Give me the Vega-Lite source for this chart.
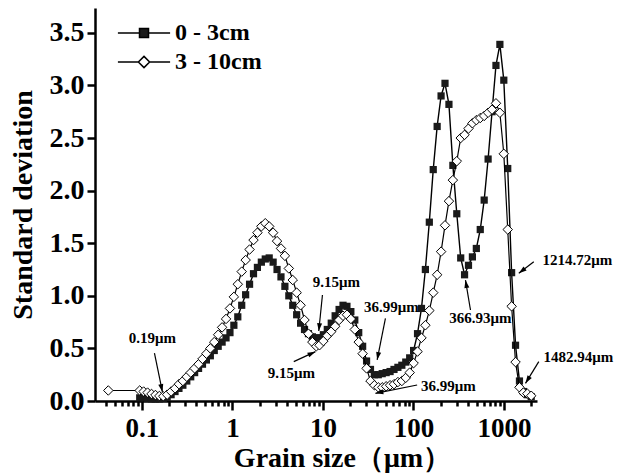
{
  "$schema": "https://vega.github.io/schema/vega-lite/v6.json",
  "width": 442,
  "height": 393,
  "autosize": {"type": "none"},
  "padding": {"left": 95, "top": 8, "right": 80, "bottom": 74},
  "background": "white",
  "config": {"view": {"stroke": null}, "font": "Liberation Serif"},
  "datasets": {
    "sd": [
      {"size": 0.0945, "sd": 0.03, "depth": "0 - 3cm"},
      {"size": 0.1044, "sd": 0.03, "depth": "0 - 3cm"},
      {"size": 0.1154, "sd": 0.025, "depth": "0 - 3cm"},
      {"size": 0.1275, "sd": 0.02, "depth": "0 - 3cm"},
      {"size": 0.1409, "sd": 0.02, "depth": "0 - 3cm"},
      {"size": 0.1557, "sd": 0.02, "depth": "0 - 3cm"},
      {"size": 0.172, "sd": 0.025, "depth": "0 - 3cm"},
      {"size": 0.19, "sd": 0.035, "depth": "0 - 3cm"},
      {"size": 0.21, "sd": 0.06, "depth": "0 - 3cm"},
      {"size": 0.232, "sd": 0.09, "depth": "0 - 3cm"},
      {"size": 0.2564, "sd": 0.12, "depth": "0 - 3cm"},
      {"size": 0.2833, "sd": 0.15, "depth": "0 - 3cm"},
      {"size": 0.313, "sd": 0.19, "depth": "0 - 3cm"},
      {"size": 0.3459, "sd": 0.23, "depth": "0 - 3cm"},
      {"size": 0.3822, "sd": 0.27, "depth": "0 - 3cm"},
      {"size": 0.4223, "sd": 0.31, "depth": "0 - 3cm"},
      {"size": 0.4667, "sd": 0.35, "depth": "0 - 3cm"},
      {"size": 0.5157, "sd": 0.39, "depth": "0 - 3cm"},
      {"size": 0.5698, "sd": 0.43, "depth": "0 - 3cm"},
      {"size": 0.6296, "sd": 0.48, "depth": "0 - 3cm"},
      {"size": 0.6957, "sd": 0.52, "depth": "0 - 3cm"},
      {"size": 0.7688, "sd": 0.56, "depth": "0 - 3cm"},
      {"size": 0.8495, "sd": 0.60, "depth": "0 - 3cm"},
      {"size": 0.9387, "sd": 0.65, "depth": "0 - 3cm"},
      {"size": 1.037, "sd": 0.72, "depth": "0 - 3cm"},
      {"size": 1.146, "sd": 0.80, "depth": "0 - 3cm"},
      {"size": 1.266, "sd": 0.91, "depth": "0 - 3cm"},
      {"size": 1.399, "sd": 1.01, "depth": "0 - 3cm"},
      {"size": 1.546, "sd": 1.11, "depth": "0 - 3cm"},
      {"size": 1.709, "sd": 1.21, "depth": "0 - 3cm"},
      {"size": 1.888, "sd": 1.27, "depth": "0 - 3cm"},
      {"size": 2.086, "sd": 1.32, "depth": "0 - 3cm"},
      {"size": 2.305, "sd": 1.35, "depth": "0 - 3cm"},
      {"size": 2.547, "sd": 1.36, "depth": "0 - 3cm"},
      {"size": 2.815, "sd": 1.32, "depth": "0 - 3cm"},
      {"size": 3.11, "sd": 1.25, "depth": "0 - 3cm"},
      {"size": 3.437, "sd": 1.18, "depth": "0 - 3cm"},
      {"size": 3.798, "sd": 1.09, "depth": "0 - 3cm"},
      {"size": 4.197, "sd": 1.00, "depth": "0 - 3cm"},
      {"size": 4.637, "sd": 0.91, "depth": "0 - 3cm"},
      {"size": 5.124, "sd": 0.82, "depth": "0 - 3cm"},
      {"size": 5.662, "sd": 0.74, "depth": "0 - 3cm"},
      {"size": 6.257, "sd": 0.68, "depth": "0 - 3cm"},
      {"size": 6.914, "sd": 0.64, "depth": "0 - 3cm"},
      {"size": 7.64, "sd": 0.61, "depth": "0 - 3cm"},
      {"size": 8.442, "sd": 0.60, "depth": "0 - 3cm"},
      {"size": 9.15, "sd": 0.60, "depth": "0 - 3cm"},
      {"size": 10.11, "sd": 0.63, "depth": "0 - 3cm"},
      {"size": 11.17, "sd": 0.68, "depth": "0 - 3cm"},
      {"size": 12.35, "sd": 0.74, "depth": "0 - 3cm"},
      {"size": 13.64, "sd": 0.81, "depth": "0 - 3cm"},
      {"size": 15.08, "sd": 0.87, "depth": "0 - 3cm"},
      {"size": 16.66, "sd": 0.91, "depth": "0 - 3cm"},
      {"size": 18.41, "sd": 0.90, "depth": "0 - 3cm"},
      {"size": 20.34, "sd": 0.85, "depth": "0 - 3cm"},
      {"size": 22.48, "sd": 0.77, "depth": "0 - 3cm"},
      {"size": 24.84, "sd": 0.65, "depth": "0 - 3cm"},
      {"size": 27.45, "sd": 0.52, "depth": "0 - 3cm"},
      {"size": 30.33, "sd": 0.38, "depth": "0 - 3cm"},
      {"size": 33.51, "sd": 0.30, "depth": "0 - 3cm"},
      {"size": 36.99, "sd": 0.25, "depth": "0 - 3cm"},
      {"size": 40.87, "sd": 0.25, "depth": "0 - 3cm"},
      {"size": 45.16, "sd": 0.26, "depth": "0 - 3cm"},
      {"size": 49.91, "sd": 0.27, "depth": "0 - 3cm"},
      {"size": 55.15, "sd": 0.28, "depth": "0 - 3cm"},
      {"size": 60.94, "sd": 0.30, "depth": "0 - 3cm"},
      {"size": 67.33, "sd": 0.32, "depth": "0 - 3cm"},
      {"size": 74.4, "sd": 0.34, "depth": "0 - 3cm"},
      {"size": 82.22, "sd": 0.37, "depth": "0 - 3cm"},
      {"size": 90.85, "sd": 0.41, "depth": "0 - 3cm"},
      {"size": 100.4, "sd": 0.48, "depth": "0 - 3cm"},
      {"size": 110.9, "sd": 0.64, "depth": "0 - 3cm"},
      {"size": 122.6, "sd": 0.88, "depth": "0 - 3cm"},
      {"size": 135.4, "sd": 1.25, "depth": "0 - 3cm"},
      {"size": 149.7, "sd": 1.70, "depth": "0 - 3cm"},
      {"size": 165.4, "sd": 2.20, "depth": "0 - 3cm"},
      {"size": 182.7, "sd": 2.61, "depth": "0 - 3cm"},
      {"size": 201.9, "sd": 2.90, "depth": "0 - 3cm"},
      {"size": 223.1, "sd": 3.02, "depth": "0 - 3cm"},
      {"size": 246.6, "sd": 2.82, "depth": "0 - 3cm"},
      {"size": 272.5, "sd": 2.24, "depth": "0 - 3cm"},
      {"size": 301.1, "sd": 1.78, "depth": "0 - 3cm"},
      {"size": 332.7, "sd": 1.36, "depth": "0 - 3cm"},
      {"size": 366.93, "sd": 1.20, "depth": "0 - 3cm"},
      {"size": 405.5, "sd": 1.29, "depth": "0 - 3cm"},
      {"size": 448, "sd": 1.37, "depth": "0 - 3cm"},
      {"size": 495.1, "sd": 1.45, "depth": "0 - 3cm"},
      {"size": 547.1, "sd": 1.63, "depth": "0 - 3cm"},
      {"size": 604.5, "sd": 1.91, "depth": "0 - 3cm"},
      {"size": 668, "sd": 2.30, "depth": "0 - 3cm"},
      {"size": 738.2, "sd": 2.75, "depth": "0 - 3cm"},
      {"size": 815.7, "sd": 3.19, "depth": "0 - 3cm"},
      {"size": 901.3, "sd": 3.39, "depth": "0 - 3cm"},
      {"size": 995.9, "sd": 3.05, "depth": "0 - 3cm"},
      {"size": 1100.5, "sd": 2.21, "depth": "0 - 3cm"},
      {"size": 1214.72, "sd": 1.22, "depth": "0 - 3cm"},
      {"size": 1342.3, "sd": 0.53, "depth": "0 - 3cm"},
      {"size": 1482.94, "sd": 0.19, "depth": "0 - 3cm"},
      {"size": 1638.6, "sd": 0.09, "depth": "0 - 3cm"},
      {"size": 1810.7, "sd": 0.06, "depth": "0 - 3cm"},
      {"size": 2000, "sd": 0.04, "depth": "0 - 3cm"},
      {"size": 0.0425, "sd": 0.10, "depth": "3 - 10cm"},
      {"size": 0.0945, "sd": 0.10, "depth": "3 - 10cm"},
      {"size": 0.1044, "sd": 0.09, "depth": "3 - 10cm"},
      {"size": 0.1154, "sd": 0.08, "depth": "3 - 10cm"},
      {"size": 0.1275, "sd": 0.067, "depth": "3 - 10cm"},
      {"size": 0.1409, "sd": 0.057, "depth": "3 - 10cm"},
      {"size": 0.1557, "sd": 0.048, "depth": "3 - 10cm"},
      {"size": 0.172, "sd": 0.045, "depth": "3 - 10cm"},
      {"size": 0.19, "sd": 0.06, "depth": "3 - 10cm"},
      {"size": 0.21, "sd": 0.09, "depth": "3 - 10cm"},
      {"size": 0.232, "sd": 0.12, "depth": "3 - 10cm"},
      {"size": 0.2564, "sd": 0.16, "depth": "3 - 10cm"},
      {"size": 0.2833, "sd": 0.19, "depth": "3 - 10cm"},
      {"size": 0.313, "sd": 0.23, "depth": "3 - 10cm"},
      {"size": 0.3459, "sd": 0.27, "depth": "3 - 10cm"},
      {"size": 0.3822, "sd": 0.31, "depth": "3 - 10cm"},
      {"size": 0.4223, "sd": 0.35, "depth": "3 - 10cm"},
      {"size": 0.4667, "sd": 0.40, "depth": "3 - 10cm"},
      {"size": 0.5157, "sd": 0.45, "depth": "3 - 10cm"},
      {"size": 0.5698, "sd": 0.50, "depth": "3 - 10cm"},
      {"size": 0.6296, "sd": 0.56, "depth": "3 - 10cm"},
      {"size": 0.6957, "sd": 0.63, "depth": "3 - 10cm"},
      {"size": 0.7688, "sd": 0.70, "depth": "3 - 10cm"},
      {"size": 0.8495, "sd": 0.78, "depth": "3 - 10cm"},
      {"size": 0.9387, "sd": 0.88, "depth": "3 - 10cm"},
      {"size": 1.037, "sd": 0.99, "depth": "3 - 10cm"},
      {"size": 1.146, "sd": 1.11, "depth": "3 - 10cm"},
      {"size": 1.266, "sd": 1.23, "depth": "3 - 10cm"},
      {"size": 1.399, "sd": 1.34, "depth": "3 - 10cm"},
      {"size": 1.546, "sd": 1.44, "depth": "3 - 10cm"},
      {"size": 1.709, "sd": 1.53, "depth": "3 - 10cm"},
      {"size": 1.888, "sd": 1.60, "depth": "3 - 10cm"},
      {"size": 2.086, "sd": 1.66, "depth": "3 - 10cm"},
      {"size": 2.305, "sd": 1.69, "depth": "3 - 10cm"},
      {"size": 2.547, "sd": 1.66, "depth": "3 - 10cm"},
      {"size": 2.815, "sd": 1.60, "depth": "3 - 10cm"},
      {"size": 3.11, "sd": 1.52, "depth": "3 - 10cm"},
      {"size": 3.437, "sd": 1.45, "depth": "3 - 10cm"},
      {"size": 3.798, "sd": 1.38, "depth": "3 - 10cm"},
      {"size": 4.197, "sd": 1.26, "depth": "3 - 10cm"},
      {"size": 4.637, "sd": 1.15, "depth": "3 - 10cm"},
      {"size": 5.124, "sd": 1.03, "depth": "3 - 10cm"},
      {"size": 5.662, "sd": 0.91, "depth": "3 - 10cm"},
      {"size": 6.257, "sd": 0.77, "depth": "3 - 10cm"},
      {"size": 6.914, "sd": 0.64, "depth": "3 - 10cm"},
      {"size": 7.64, "sd": 0.56, "depth": "3 - 10cm"},
      {"size": 8.442, "sd": 0.52, "depth": "3 - 10cm"},
      {"size": 9.15, "sd": 0.53, "depth": "3 - 10cm"},
      {"size": 10.11, "sd": 0.57, "depth": "3 - 10cm"},
      {"size": 11.17, "sd": 0.62, "depth": "3 - 10cm"},
      {"size": 12.35, "sd": 0.66, "depth": "3 - 10cm"},
      {"size": 13.64, "sd": 0.71, "depth": "3 - 10cm"},
      {"size": 15.08, "sd": 0.77, "depth": "3 - 10cm"},
      {"size": 16.66, "sd": 0.81, "depth": "3 - 10cm"},
      {"size": 18.41, "sd": 0.82, "depth": "3 - 10cm"},
      {"size": 20.34, "sd": 0.78, "depth": "3 - 10cm"},
      {"size": 22.48, "sd": 0.68, "depth": "3 - 10cm"},
      {"size": 24.84, "sd": 0.56, "depth": "3 - 10cm"},
      {"size": 27.45, "sd": 0.45, "depth": "3 - 10cm"},
      {"size": 30.33, "sd": 0.31, "depth": "3 - 10cm"},
      {"size": 33.51, "sd": 0.19, "depth": "3 - 10cm"},
      {"size": 36.99, "sd": 0.15, "depth": "3 - 10cm"},
      {"size": 40.87, "sd": 0.13, "depth": "3 - 10cm"},
      {"size": 45.16, "sd": 0.13, "depth": "3 - 10cm"},
      {"size": 49.91, "sd": 0.14, "depth": "3 - 10cm"},
      {"size": 55.15, "sd": 0.15, "depth": "3 - 10cm"},
      {"size": 60.94, "sd": 0.16, "depth": "3 - 10cm"},
      {"size": 67.33, "sd": 0.18, "depth": "3 - 10cm"},
      {"size": 74.4, "sd": 0.19, "depth": "3 - 10cm"},
      {"size": 82.22, "sd": 0.22, "depth": "3 - 10cm"},
      {"size": 90.85, "sd": 0.27, "depth": "3 - 10cm"},
      {"size": 100.4, "sd": 0.36, "depth": "3 - 10cm"},
      {"size": 110.9, "sd": 0.47, "depth": "3 - 10cm"},
      {"size": 122.6, "sd": 0.60, "depth": "3 - 10cm"},
      {"size": 135.4, "sd": 0.72, "depth": "3 - 10cm"},
      {"size": 149.7, "sd": 0.86, "depth": "3 - 10cm"},
      {"size": 165.4, "sd": 1.03, "depth": "3 - 10cm"},
      {"size": 182.7, "sd": 1.20, "depth": "3 - 10cm"},
      {"size": 201.9, "sd": 1.42, "depth": "3 - 10cm"},
      {"size": 223.1, "sd": 1.67, "depth": "3 - 10cm"},
      {"size": 246.6, "sd": 1.90, "depth": "3 - 10cm"},
      {"size": 272.5, "sd": 2.10, "depth": "3 - 10cm"},
      {"size": 301.1, "sd": 2.28, "depth": "3 - 10cm"},
      {"size": 332.7, "sd": 2.50, "depth": "3 - 10cm"},
      {"size": 366.93, "sd": 2.53, "depth": "3 - 10cm"},
      {"size": 405.5, "sd": 2.59, "depth": "3 - 10cm"},
      {"size": 448, "sd": 2.64, "depth": "3 - 10cm"},
      {"size": 495.1, "sd": 2.67, "depth": "3 - 10cm"},
      {"size": 547.1, "sd": 2.69, "depth": "3 - 10cm"},
      {"size": 604.5, "sd": 2.71, "depth": "3 - 10cm"},
      {"size": 668, "sd": 2.74, "depth": "3 - 10cm"},
      {"size": 738.2, "sd": 2.77, "depth": "3 - 10cm"},
      {"size": 815.7, "sd": 2.83, "depth": "3 - 10cm"},
      {"size": 901.3, "sd": 2.74, "depth": "3 - 10cm"},
      {"size": 995.9, "sd": 2.35, "depth": "3 - 10cm"},
      {"size": 1100.5, "sd": 1.63, "depth": "3 - 10cm"},
      {"size": 1214.72, "sd": 0.90, "depth": "3 - 10cm"},
      {"size": 1342.3, "sd": 0.37, "depth": "3 - 10cm"},
      {"size": 1482.94, "sd": 0.13, "depth": "3 - 10cm"},
      {"size": 1638.6, "sd": 0.08, "depth": "3 - 10cm"},
      {"size": 1810.7, "sd": 0.07, "depth": "3 - 10cm"},
      {"size": 2000, "sd": 0.05, "depth": "3 - 10cm"}
    ],
    "notes": [
      {"label": "0.19μm", "tx": 0.1306, "ty": 0.599, "x1": 0.1375, "y1": 0.456, "x2": 0.1684, "y2": 0.086, "ang": 168},
      {"label": "9.15μm", "tx": 14.1, "ty": 1.131, "x1": 9.87, "y1": 1.008, "x2": 8.99, "y2": 0.665, "ang": 186},
      {"label": "9.15μm", "tx": 4.49, "ty": 0.266, "x1": 4.76, "y1": 0.374, "x2": 8.26, "y2": 0.469, "ang": 65},
      {"label": "36.99μm", "tx": 57.1, "ty": 0.894, "x1": 49.0, "y1": 0.786, "x2": 39.7, "y2": 0.39, "ang": 191},
      {"label": "36.99μm", "tx": 243.7, "ty": 0.143, "x1": 109.8, "y1": 0.152, "x2": 38.0, "y2": 0.073, "ang": 259},
      {"label": "366.93μm", "tx": 550, "ty": 0.789, "x1": 426.6, "y1": 0.865, "x2": 375.5, "y2": 1.15, "ang": 350},
      {"label": "1214.72μm", "tx": 6486, "ty": 1.34, "x1": 2135, "y1": 1.324, "x2": 1458, "y2": 1.214, "ang": 232},
      {"label": "1482.94μm", "tx": 6655, "ty": 0.418, "x1": 2425, "y1": 0.374, "x2": 1728, "y2": 0.168, "ang": 212}
    ]
  },
  "layer": [
    {
      "data": {"name": "sd"},
      "transform": [{"filter": "datum.depth === '0 - 3cm'"}],
      "mark": {"type": "line", "color": "black", "strokeWidth": 1.4},
      "encoding": {
        "x": {
          "field": "size", "type": "quantitative",
          "scale": {"type": "log", "domain": [0.0303, 2317], "nice": false},
          "axis": {
            "title": "Grain size（μm）",
            "titleFont": "Liberation Serif", "titleFontSize": 28, "titleFontWeight": "bold", "titleColor": "black",
            "titleX": 247, "titlePadding": 3,
            "values": [0.04,0.05,0.06,0.07,0.08,0.09,0.1,0.2,0.3,0.4,0.5,0.6,0.7,0.8,0.9,1,2,3,4,5,6,7,8,9,10,20,30,40,50,60,70,80,90,100,200,300,400,500,600,700,800,900,1000,2000],
            "labelExpr": "datum.value == 0.1 ? '0.1' : datum.value == 1 ? '1' : datum.value == 10 ? '10' : datum.value == 100 ? '100' : datum.value == 1000 ? '1000' : ''",
            "labelFont": "Liberation Serif", "labelFontSize": 27, "labelFontWeight": "bold", "labelColor": "black",
            "labelPadding": 5, "labelOverlap": false, "labelFlush": false, "labelBound": false,
            "tickSize": {"condition": {"test": "indexof([0.1,1,10,100,1000], datum.value) >= 0", "value": 9}, "value": 5},
            "tickWidth": 2.5, "tickColor": "black",
            "domainWidth": 2.5, "domainColor": "black", "grid": false
          }
        },
        "y": {
          "field": "sd", "type": "quantitative",
          "scale": {"domain": [0, 3.736], "nice": false, "zero": true},
          "axis": {
            "title": "Standard deviation",
            "titleFont": "Liberation Serif", "titleFontSize": 28, "titleFontWeight": "bold", "titleColor": "black",
            "titlePadding": 12,
            "values": [0,0.25,0.5,0.75,1,1.25,1.5,1.75,2,2.25,2.5,2.75,3,3.25,3.5],
            "labelExpr": "datum.value % 0.5 === 0 ? format(datum.value, '.1f') : ''",
            "labelFont": "Liberation Serif", "labelFontSize": 28, "labelFontWeight": "bold", "labelColor": "black",
            "labelPadding": 3, "labelOverlap": false, "labelFlush": false, "labelBound": false,
            "tickSize": {"condition": {"test": "datum.value % 0.5 === 0", "value": 8}, "value": 5},
            "tickWidth": 2.5, "tickColor": "black",
            "domainWidth": 2.5, "domainColor": "black", "grid": false
          }
        }
      }
    },
    {
      "data": {"name": "sd"},
      "transform": [{"filter": "datum.depth === '0 - 3cm'"}],
      "mark": {"type": "point", "shape": "square", "filled": true, "color": "#1a1a1a", "size": 52, "opacity": 1},
      "encoding": {
        "x": {"field": "size", "type": "quantitative"},
        "y": {"field": "sd", "type": "quantitative"}
      }
    },
    {
      "data": {"name": "sd"},
      "transform": [{"filter": "datum.depth === '3 - 10cm'"}],
      "mark": {"type": "line", "color": "black", "strokeWidth": 1.2},
      "encoding": {
        "x": {"field": "size", "type": "quantitative"},
        "y": {"field": "sd", "type": "quantitative"}
      }
    },
    {
      "data": {"name": "sd"},
      "transform": [{"filter": "datum.depth === '3 - 10cm'"}],
      "mark": {"type": "point", "shape": "diamond", "filled": true, "fill": "white", "stroke": "black", "strokeWidth": 1, "size": 90, "opacity": 1},
      "encoding": {
        "x": {"field": "size", "type": "quantitative"},
        "y": {"field": "sd", "type": "quantitative"}
      }
    },
    {
      "data": {"name": "sd"},
      "mark": {"type": "point", "filled": true, "opacity": 0},
      "encoding": {
        "x": {"field": "size", "type": "quantitative"},
        "y": {"field": "sd", "type": "quantitative"},
        "shape": {
          "field": "depth", "type": "nominal",
          "scale": {"range": ["M-5.8,0H-1M1,0H5.8M-1,-1H1V1H-1Z", "M-5.8,0H-1.25M1.25,0H5.8M0,-1.25L1.25,0L0,1.25L-1.25,0Z"]},
          "legend": {
            "title": null, "orient": "none", "legendX": 37, "legendY": 13,
            "symbolSize": 81, "symbolOpacity": 1,
            "labelFont": "Liberation Serif", "labelFontSize": 24, "labelFontWeight": "bold", "labelColor": "black",
            "labelOffset": 19, "rowPadding": 5,
            "encode": {"symbols": {"update": {"stroke": {"value": "black"}, "strokeWidth": {"value": 1.5}, "opacity": {"value": 1}}}}
          }
        },
        "fill": {
          "field": "depth", "type": "nominal",
          "scale": {"range": ["#1a1a1a", "white"]},
          "legend": {
            "title": null, "orient": "none", "legendX": 37, "legendY": 13,
            "symbolSize": 81, "symbolOpacity": 1,
            "labelFont": "Liberation Serif", "labelFontSize": 24, "labelFontWeight": "bold", "labelColor": "black",
            "labelOffset": 19, "rowPadding": 5,
            "encode": {"symbols": {"update": {"stroke": {"value": "black"}, "strokeWidth": {"value": 1.5}, "opacity": {"value": 1}}}}
          }
        }
      }
    },
    {
      "data": {"name": "notes"},
      "mark": {"type": "rule", "color": "black", "strokeWidth": 1.2},
      "encoding": {
        "x": {"field": "x1", "type": "quantitative"},
        "y": {"field": "y1", "type": "quantitative"},
        "x2": {"field": "x2"},
        "y2": {"field": "y2"}
      }
    },
    {
      "data": {"name": "notes"},
      "mark": {"type": "point", "shape": "M0,0L-0.6,1.9L0.6,1.9Z", "filled": true, "color": "black", "size": 70, "opacity": 1},
      "encoding": {
        "x": {"field": "x2", "type": "quantitative"},
        "y": {"field": "y2", "type": "quantitative"},
        "angle": {"field": "ang", "type": "quantitative", "scale": null}
      }
    },
    {
      "data": {"name": "notes"},
      "mark": {"type": "text", "font": "Liberation Serif", "fontSize": 15, "fontWeight": "bold", "color": "black", "align": "center", "baseline": "middle"},
      "encoding": {
        "x": {"field": "tx", "type": "quantitative"},
        "y": {"field": "ty", "type": "quantitative"},
        "text": {"field": "label"}
      }
    }
  ]
}
